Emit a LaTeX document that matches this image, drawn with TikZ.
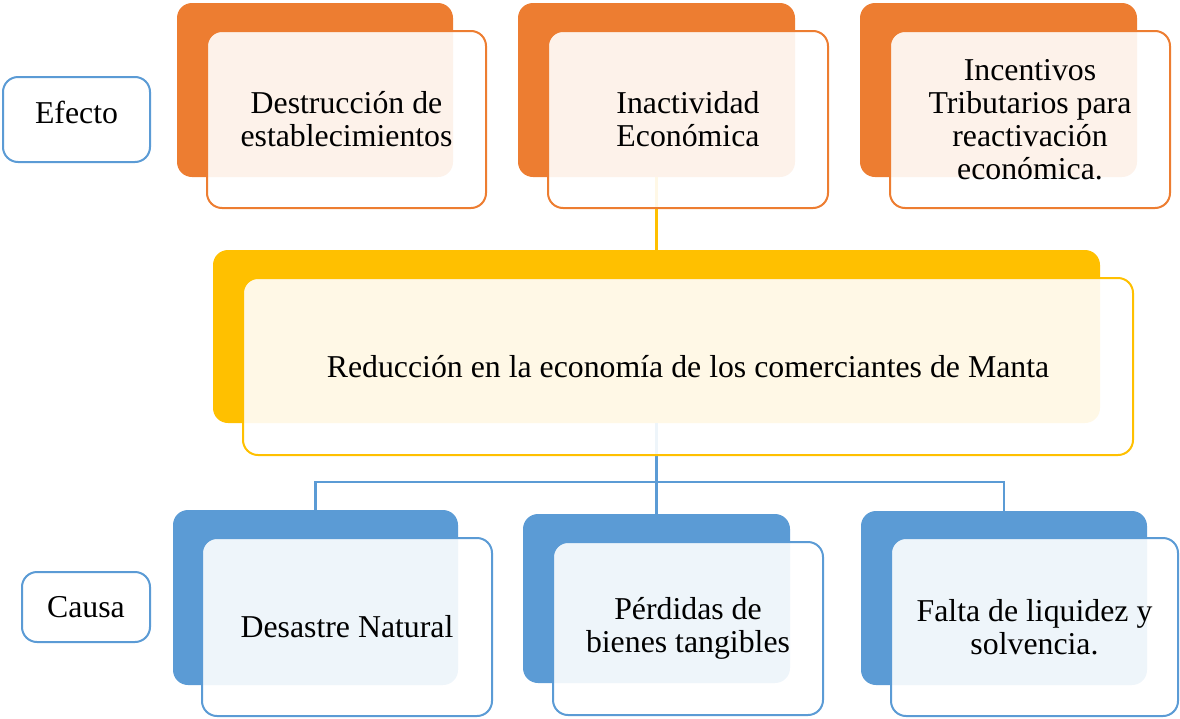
\documentclass[tikz,border=0pt]{standalone}
\usepackage{fontspec}
\setmainfont{Liberation Serif}
\usetikzlibrary{calc}
\definecolor{ofOrange}{HTML}{ED7D31}
\definecolor{ofYellow}{HTML}{FFC000}
\definecolor{ofBlue}{HTML}{5B9BD5}

\begin{document}
\begin{tikzpicture}[
      x=1pt, y=-1pt,
      font=\fontsize{31.8}{33}\selectfont,
      back/.style={rounded corners=15pt, inner sep=0pt, fill=#1},
      front/.style={draw=#1, line width=2pt, rounded corners=15pt, fill=white,
                    fill opacity=0.9, text opacity=1, align=center, inner sep=0pt},
      tag/.style={draw=ofBlue, line width=2pt, rounded corners=15pt, fill=white,
                  align=center, inner sep=0pt},
      link/.style={draw=#1, line width=2.2pt},
    ]
    \useasboundingbox (0,0) rectangle (1180,718);

    % ---------- back plates ----------
    \node[back=ofOrange, minimum width=276pt, minimum height=174pt] (e1b) at (315,90) {};
    \node[back=ofOrange, minimum width=277pt, minimum height=174pt] (e2b) at (656.5,90) {};
    \node[back=ofOrange, minimum width=277pt, minimum height=174pt] (e3b) at (998.5,90) {};
    \node[back=ofYellow, minimum width=887pt, minimum height=173pt] (redb) at (656.5,336.5) {};
    \node[back=ofBlue, minimum width=285pt, minimum height=175pt] (c1b) at (315.5,597.5) {};
    \node[back=ofBlue, minimum width=267pt, minimum height=169pt] (c2b) at (656.5,598.5) {};
    \node[back=ofBlue, minimum width=286pt, minimum height=174pt] (c3b) at (1004,598) {};

    % ---------- connectors ----------
    \coordinate (bus) at (656.5,482);
    \draw[link=ofYellow] (e2b.south) -- (redb.north);
    \draw[link=ofBlue] (redb.south) -- (c2b.north);
    \draw[link=ofBlue] (c1b.north) -- (c1b.north |- bus) -- (c3b.north |- bus) -- (c3b.north);

    % ---------- front boxes ----------
    \node[front=ofOrange, minimum width=279pt, minimum height=177pt] (e1) at (346.5,119.5)
      {Destrucción de\\establecimientos};
    \node[front=ofOrange, minimum width=280pt, minimum height=177pt] (e2) at (688,119.5)
      {Inactividad\\Económica};
    \node[front=ofOrange, minimum width=280pt, minimum height=177pt] (e3) at (1030,119.5)
      {Incentivos\\Tributarios para\\reactivación\\económica.};
    \node[front=ofYellow, minimum width=890pt, minimum height=177pt] (red) at (688,366.5)
      {Reducción en la economía de los comerciantes de Manta};
    \node[front=ofBlue, minimum width=290pt, minimum height=178pt] (c1) at (347,627)
      {Desastre Natural};
    \node[front=ofBlue, minimum width=270pt, minimum height=173pt] (c2) at (688,628.5)
      {Pérdidas de\\bienes tangibles};
    \node[front=ofBlue, minimum width=287pt, minimum height=178pt] (c3) at (1034.5,627)
      {Falta de liquidez y\\solvencia.};

    % ---------- side tags ----------
    \node[tag, minimum width=147pt, minimum height=85pt, text depth=15pt] (efecto) at (76.5,119.5) {Efecto};
    \node[tag, minimum width=128pt, minimum height=70pt] (causa) at (86,607) {Causa};
  \end{tikzpicture}
\end{document}
